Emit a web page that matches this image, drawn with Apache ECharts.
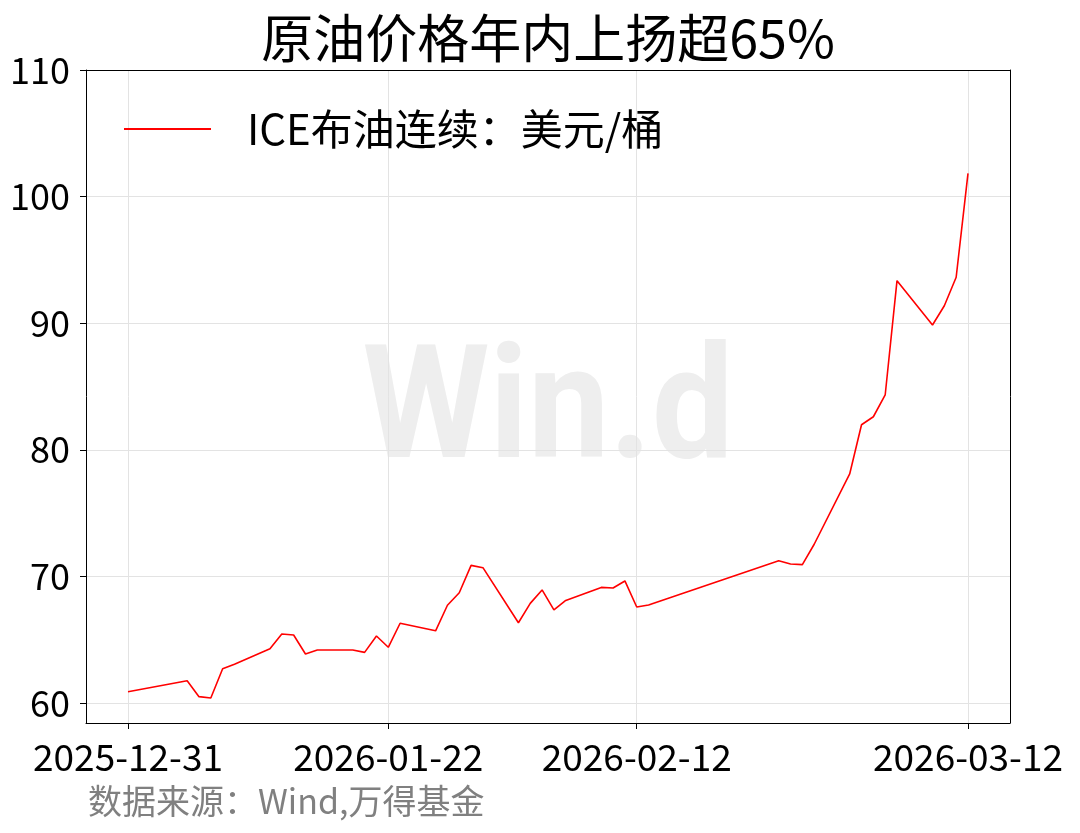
<!DOCTYPE html>
<html>
<head>
<meta charset="utf-8">
<script src="https://cdn.jsdelivr.net/npm/echarts@6/dist/echarts.min.js"></script>
<style>
html,body{margin:0;padding:0;background:#fff;}
#c{width:1080px;height:833px;}
</style>
</head>
<body>
<div id="c"></div>
<script>
const titleText = '原油价格年内上扬超65%';
const seriesName = 'ICE布油连续：美元/桶';
const sourceText = '数据来源：Wind,万得基金';
const dates = ['2025-12-31','2026-01-05','2026-01-06','2026-01-07','2026-01-08','2026-01-09',
  '2026-01-12','2026-01-13','2026-01-14','2026-01-15','2026-01-16','2026-01-19','2026-01-20',
  '2026-01-21','2026-01-22','2026-01-23','2026-01-26','2026-01-27','2026-01-28','2026-01-29',
  '2026-01-30','2026-02-02','2026-02-03','2026-02-04','2026-02-05','2026-02-06','2026-02-09',
  '2026-02-10','2026-02-11','2026-02-12','2026-02-13','2026-02-24','2026-02-25','2026-02-26',
  '2026-02-27','2026-03-02','2026-03-03','2026-03-04','2026-03-05','2026-03-06','2026-03-09',
  '2026-03-10','2026-03-11','2026-03-12'];
const brent = [60.89,61.76,60.50,60.40,62.70,63.06,
  64.29,65.45,65.37,63.87,64.19,64.19,64.00,
  65.29,64.40,66.30,65.70,67.72,68.71,70.87,
  70.69,66.34,67.87,68.93,67.35,68.10,69.13,
  69.08,69.64,67.58,67.74,71.24,70.98,70.93,
  72.54,78.09,81.98,82.61,84.33,93.36,89.86,
  91.38,93.63,101.84];
const xTickLabels = ['2025-12-31','2026-01-22','2026-02-12','2026-03-12'];
const yTicks = [60,70,80,90,100,110];

const ts = s => Date.parse(s + 'T00:00:00Z');
const xFirst = ts(dates[0]), xLast = ts(dates[dates.length-1]);
const pad = (xLast - xFirst) * 0.05;
const font = '"Noto Sans CJK SC", "Noto Sans", sans-serif';
const xTickValues = xTickLabels.map(ts);
const xMin = xFirst - pad, xMax = xLast + pad;
const yMin = 58.42, yMax = 110;
const frameAxis = {show:true, axisLine:{show:true,onZero:false,lineStyle:{color:'#000',width:1}},
  axisTick:{show:false}, axisLabel:{show:false}, splitLine:{show:false}};

const chart = echarts.init(document.getElementById('c'), null, {renderer:'canvas'});
chart.setOption({
  animation:false,
  backgroundColor:'#fff',
  textStyle:{fontFamily:font},
  grid:{left:86,right:70,top:70,bottom:110,show:false},
  graphic:[
    {type:'text', z:-10, x:548, y:417, scaleX:0.92, style:{text:'Win.d', fill:'#eeeeee', font:'bold 158px Roboto', textAlign:'center', textVerticalAlign:'middle'}},
    {type:'text', x:548, y:38, style:{text:titleText, fill:'#000', font:'52px '+font, textAlign:'center', textVerticalAlign:'middle'}},
    {type:'text', x:88, y:801, style:{text:sourceText, fill:'#808080', font:'34px '+font, textAlign:'left', textVerticalAlign:'middle'}}
  ],
  legend:{
    left:119, top:103,
    itemWidth:87, itemHeight:2, icon:'rect',
    textStyle:{fontSize:42, color:'#000', fontFamily:font, padding:[0,0,0,31]},
    data:[seriesName]
  },
  xAxis:[{
    type:'value', position:'bottom',
    min:xMin, max:xMax,
    axisLine:{show:true,onZero:false,lineStyle:{color:'#000',width:1}},
    axisTick:{show:true,length:6,lineStyle:{color:'#000'},customValues:xTickValues},
    axisLabel:{fontSize:37,color:'#000',margin:15,fontFamily:font,
      customValues:xTickValues,
      formatter:v=>new Date(v).toISOString().slice(0,10)},
    splitLine:{show:true,lineStyle:{color:'#e3e3e3',width:1}}
  }, Object.assign({type:'value', position:'top', min:xMin, max:xMax}, frameAxis)],
  yAxis:[{
    type:'value', position:'left',
    min:yMin, max:yMax,
    axisLine:{show:true,onZero:false,lineStyle:{color:'#000',width:1}},
    axisTick:{show:true,length:6,lineStyle:{color:'#000'},customValues:yTicks},
    axisLabel:{fontSize:36,color:'#000',margin:16,fontFamily:font,customValues:yTicks},
    splitLine:{show:true,lineStyle:{color:'#e3e3e3',width:1}}
  }, Object.assign({type:'value', position:'right', min:yMin, max:yMax}, frameAxis)],
  series:[{
    name:seriesName,
    type:'line',
    xAxisIndex:0, yAxisIndex:0,
    data:dates.map((d,i)=>[ts(d),brent[i]]),
    showSymbol:false,
    symbol:'none',
    lineStyle:{color:'#ff0000',width:1.6},
    itemStyle:{color:'#ff0000'}
  }]
});
</script>
</body>
</html>
